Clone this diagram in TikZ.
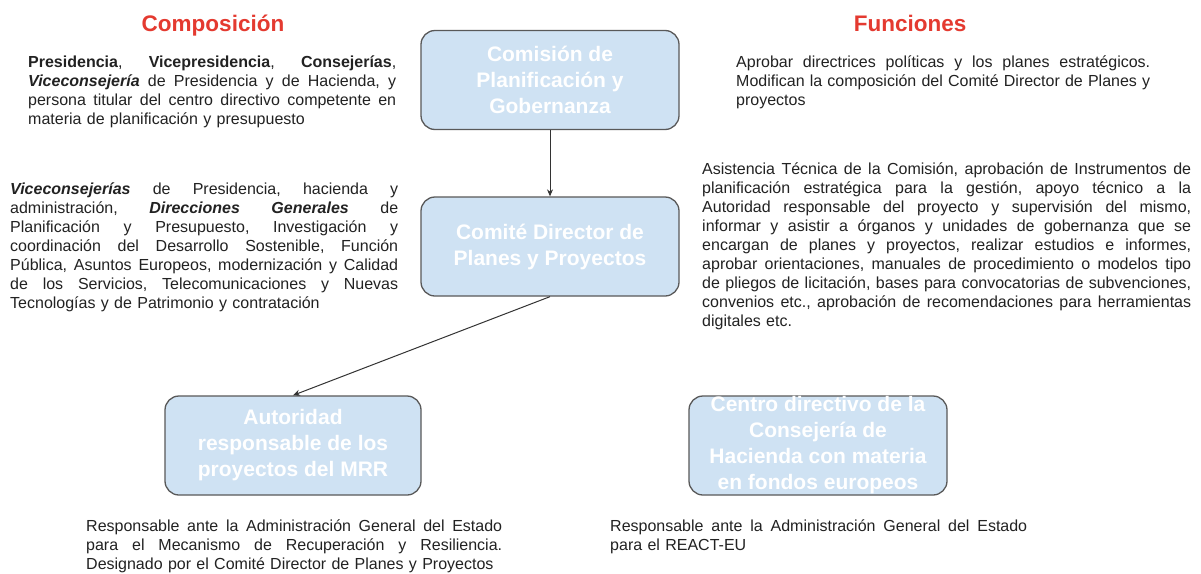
\documentclass[tikz,border=0pt]{standalone}
\usepackage{fontspec}
\setmainfont{Liberation Sans}
\usetikzlibrary{arrows.meta}
\definecolor{boxfill}{HTML}{CFE2F3}
\definecolor{boxline}{HTML}{595959}
\definecolor{titlered}{RGB}{228,58,48}
\definecolor{bodytext}{HTML}{222222}
\frenchspacing
\newcommand\jl[2]{\noindent\hbox to #1{\spaceskip=0.278em plus 1fil\relax #2}\par}
\newcommand\lastl[2]{\noindent\hbox to #1{#2\hfil}\par}
\newcommand\bi[1]{\textbf{\textit{#1}}}
\tikzset{
  orgbox/.style={draw=boxline, fill=boxfill, line width=1.3pt, rounded corners=14pt,
    minimum width=258pt, minimum height=99pt, inner sep=0pt, align=center,
    text=white, font=\fontsize{21}{26}\selectfont\bfseries},
  titletext/.style={text=titlered, font=\fontsize{22.5}{27}\selectfont\bfseries, anchor=base, inner sep=0pt},
  para/.style={anchor=base west, inner sep=0pt, text=bodytext, text width=#1,
    font=\fontsize{16}{19}\selectfont},
  link/.style={draw=black!80, line width=1pt, -{Stealth[length=7pt,width=6pt]}},
}
\begin{document}
\begin{tikzpicture}[x=1pt,y=-1pt]
\useasboundingbox (0,0) rectangle (1201,573);
\fill[white] (0,0) rectangle (1201,573);

% titles
\node[titletext] (tcomp) at (213,31) {Composición};
\node[titletext] (tfunc) at (910,31) {Funciones};

% boxes
\node[orgbox] (b1) at (550,80) {Comisión de\\Planificación y\\Gobernanza};
\node[orgbox] (b2) at (550,246.5) {Comité Director de\\Planes y Proyectos};
\node[orgbox, minimum width=256pt] (b3) at (293,445.5) {Autoridad\\responsable de los\\proyectos del MRR};
\node[orgbox] (b4) at (818,445.5) {Centro directivo de la\\Consejería de\\Hacienda con materia\\en fondos europeos};

% connectors
\draw[link] (b1.south) -- (b2.north);
\draw[link] (b2.south) -- (b3.north);

% text blocks
\node[para=368pt] (tl) at (28,67) {%
\jl{368pt}{\textbf{Presidencia}, \textbf{Vicepresidencia}, \textbf{Consejerías},}
\jl{368pt}{\bi{Viceconsejería} de Presidencia y de Hacienda, y}
\jl{368pt}{persona titular del centro directivo competente en}
\lastl{368pt}{materia de planificación y presupuesto}};

\node[para=414pt] (tr) at (736,67) {%
\jl{414pt}{Aprobar directrices políticas y los planes estratégicos.}
\jl{414pt}{Modifican la composición del Comité Director de Planes y}
\lastl{414pt}{proyectos}};

\node[para=388pt] (ll) at (10,194) {%
\jl{388pt}{\bi{Viceconsejerías} de Presidencia, hacienda y}
\jl{388pt}{administración, \bi{Direcciones Generales} de}
\jl{388pt}{Planificación y Presupuesto, Investigación y}
\jl{388pt}{coordinación del Desarrollo Sostenible, Función}
\jl{388pt}{Pública, Asuntos Europeos, modernización y Calidad}
\jl{388pt}{de los Servicios, Telecomunicaciones y Nuevas}
\lastl{388pt}{Tecnologías y de Patrimonio y contratación}};

\node[para=489pt] (lr) at (702,174) {%
\jl{489pt}{Asistencia Técnica de la Comisión, aprobación de Instrumentos de}
\jl{489pt}{planificación estratégica para la gestión, apoyo técnico a la}
\jl{489pt}{Autoridad responsable del proyecto y supervisión del mismo,}
\jl{489pt}{informar y asistir a órganos y unidades de gobernanza que se}
\jl{489pt}{encargan de planes y proyectos, realizar estudios e informes,}
\jl{489pt}{aprobar orientaciones, manuales de procedimiento o modelos tipo}
\jl{489pt}{de pliegos de licitación, bases para convocatorias de subvenciones,}
\jl{489pt}{convenios etc., aprobación de recomendaciones para herramientas}
\lastl{489pt}{digitales etc.}};

\node[para=416pt] (bl) at (86,531) {%
\jl{416pt}{Responsable ante la Administración General del Estado}
\jl{416pt}{para el Mecanismo de Recuperación y Resiliencia.}
\lastl{416pt}{Designado por el Comité Director de Planes y Proyectos}};

\node[para=417pt] (br) at (610,531) {%
\jl{417pt}{Responsable ante la Administración General del Estado}
\lastl{417pt}{para el REACT-EU}};
\end{tikzpicture}
\end{document}
